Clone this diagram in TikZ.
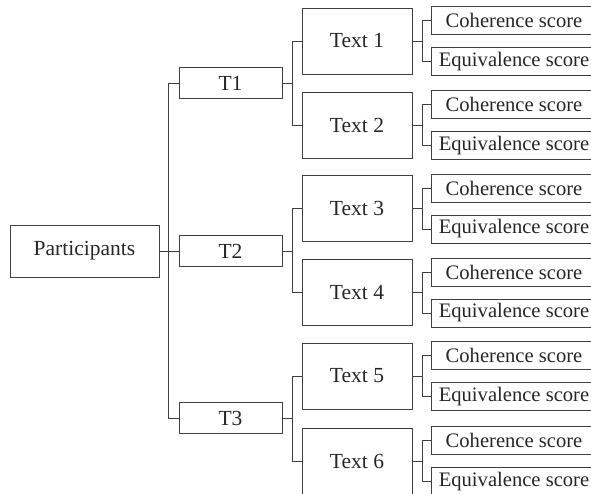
\documentclass[tikz,border=0pt]{standalone}
\usepackage{fontspec}
\setmainfont{Liberation Serif}
\begin{document}
\begin{tikzpicture}[x=1pt,y=-1pt,
  every node/.style={font=\fontsize{21.5}{24}\selectfont, text=black!85},
  box/.style={draw=black!75, line width=0.9pt, inner sep=0pt, align=center},
  rootbox/.style={box, minimum width=149pt, minimum height=52pt},
  tbox/.style={box, minimum width=103pt, minimum height=31pt},
  textbox/.style={box, minimum width=110pt, minimum height=66pt},
  scorebox/.style={box, minimum width=166pt, minimum height=28pt,
    font=\fontsize{20.6}{24}\selectfont},
  link/.style={draw=black!75, line width=0.9pt}]
\useasboundingbox (0,0) rectangle (591,493);

% root and the three task groups
\node[rootbox] (P) at (84.5,251) {Participants};
\node[tbox] (T1) at (230.5,83) {T1};
\node[tbox] (T2) at (230.5,251) {T2};
\node[tbox] (T3) at (230.5,418) {T3};

% texts with their two scores
\foreach \i/\y in {1/41,2/125,3/208.5,4/292.5,5/376,6/461}{
  \node[textbox] (X\i) at (357,\y) {Text \i};
  \node[scorebox] (C\i) at (514,\y-20.5) {Coherence score};
  \node[scorebox] (E\i) at (514,\y+20.5) {Equivalence score};
}

% root to tasks
\draw[link] (P.east) -- (T2.west);
\draw[link] (T1.west) -- ++(-10,0) |- (T3.west);

% tasks to texts
\foreach \t/\a/\b in {1/1/2,2/3/4,3/5/6}{
  \draw[link] (T\t.east) -- ++(10,0) coordinate (bt\t);
  \draw[link] (X\a.west) -| (bt\t) |- (X\b.west);
}

% texts to scores
\foreach \i in {1,...,6}{
  \draw[link] (X\i.east) -- ++(10,0) coordinate (bx\i);
  \draw[link] (C\i.west) -| (bx\i) |- (E\i.west);
}
\end{tikzpicture}
\end{document}
